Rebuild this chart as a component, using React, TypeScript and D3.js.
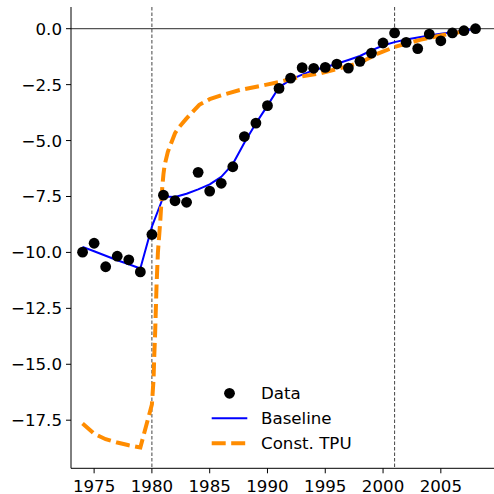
import React from "react";
import * as d3 from "d3";

const dataYears = [1974,1975,1976,1977,1978,1979,1980,1981,1982,1983,1984,1985,1986,1987,1988,1989,1990,1991,1992,1993,1994,1995,1996,1997,1998,1999,2000,2001,2002,2003,2004,2005,2006,2007,2008];
const dataValues = [-9.99,-9.59,-10.64,-10.17,-10.33,-10.87,-9.2,-7.44,-7.69,-7.76,-6.42,-7.26,-6.91,-6.17,-4.82,-4.22,-3.44,-2.67,-2.21,-1.74,-1.77,-1.73,-1.58,-1.76,-1.46,-1.09,-0.64,-0.19,-0.61,-0.89,-0.24,-0.54,-0.19,-0.09,0.0];

const baselineYears = dataYears;
const baselineValues = [-9.75,-9.95,-10.15,-10.35,-10.53,-10.72,-8.85,-7.5,-7.52,-7.38,-7.18,-6.96,-6.62,-6.05,-5.1,-4.23,-3.44,-2.62,-2.28,-2.05,-1.85,-1.72,-1.57,-1.4,-1.22,-0.97,-0.75,-0.6,-0.48,-0.39,-0.3,-0.22,-0.16,-0.09,0.0];

const tpuYears = [1974,1975,1976,1977,1978,1979,1980,1980.14,1980.2,1980.28,1980.4,1980.52,1980.73,1980.9,1981,1981.1,1981.38,1982,1982.4,1983,1984.1,1985,1986,1987.6,1989.4,1991.1,1992.8,1994.5,1996.2,1998,1999.6,2001.1,2003.2,2005.2,2006.9,2008];
const tpuValues = [-17.65,-18.1,-18.35,-18.5,-18.62,-18.72,-16.8,-15.7,-14.7,-13.6,-11.5,-10.0,-8.55,-7.06,-6.5,-6.1,-5.5,-4.67,-4.37,-4.01,-3.4,-3.15,-2.98,-2.74,-2.56,-2.37,-2.15,-2.0,-1.78,-1.52,-1.1,-0.8,-0.5,-0.28,-0.13,0.0];

const xTicks = [1975,1980,1985,1990,1995,2000,2005];
const yTicks = [0,-2.5,-5,-7.5,-10,-12.5,-15,-17.5];
const vLines = [1980,2001];
const legendLabels = ["Data","Baseline","Const. TPU"];

const W = 494, H = 494;
const left = 71, right = 494, top = 7, bottom = 468.3;
const font = "DejaVu Sans, sans-serif";
const fs = 16.67;

export default function App() {
  const x = d3.scaleLinear().domain([1973, 2009.6]).range([left, right]);
  const y = d3.scaleLinear().domain([0.97, -19.65]).range([top, bottom]);

  const blueLine = d3.line<number>().x((d, i) => x(baselineYears[i])).y(d => y(d))(baselineValues) || "";
  const orangeLine = d3.line<number>().x((d, i) => x(tpuYears[i])).y(d => y(d))(tpuValues) || "";

  const fmt = (v: number) => (v < 0 ? "\u2212" : "") + Math.abs(v).toFixed(1);

  return (
    <svg width={W} height={H} style={{ position: "absolute", left: 0, top: 0, background: "#fff" }} fontFamily={font}>
      <rect x={0} y={0} width={W} height={H} fill="#fff" />
      {/* zero line */}
      <line x1={left} x2={right} y1={y(0)} y2={y(0)} stroke="#555" strokeWidth={1.3} />
      {/* vertical dashed lines */}
      {vLines.map(v => (
        <line key={v} x1={x(v)} x2={x(v)} y1={top} y2={bottom} stroke="#444" strokeWidth={1} strokeDasharray="3.5,2" />
      ))}
      {/* baseline */}
      <path d={blueLine} fill="none" stroke="#0000ff" strokeWidth={2} strokeLinejoin="round" />
      {/* const TPU */}
      <path d={orangeLine} fill="none" stroke="#ff8c00" strokeWidth={4} strokeDasharray="14,5.5" />
      {/* data */}
      {dataValues.map((v, i) => (
        <circle key={i} cx={x(dataYears[i])} cy={y(v)} r={5.4} fill="#000" />
      ))}
      {/* axes */}
      <line x1={left} x2={left} y1={top} y2={bottom} stroke="#000" strokeWidth={1} />
      <line x1={left} x2={right} y1={bottom} y2={bottom} stroke="#000" strokeWidth={1} />
      {yTicks.map(t => (
        <g key={t}>
          <line x1={left - 5} x2={left} y1={y(t)} y2={y(t)} stroke="#000" strokeWidth={1} />
          <text x={left - 9} y={y(t)} dy="0.36em" textAnchor="end" fontSize={fs} fill="#000">{fmt(t)}</text>
        </g>
      ))}
      {xTicks.map(t => (
        <g key={t}>
          <line x1={x(t)} x2={x(t)} y1={bottom} y2={bottom + 5} stroke="#000" strokeWidth={1} />
          <text x={x(t)} y={492} textAnchor="middle" fontSize={fs} fill="#000">{t}</text>
        </g>
      ))}
      {/* legend */}
      <circle cx={229.5} cy={393.3} r={5.4} fill="#000" />
      <line x1={211.7} x2={247.3} y1={418.3} y2={418.3} stroke="#0000ff" strokeWidth={2} />
      <line x1={211.7} x2={247.3} y1={443.3} y2={443.3} stroke="#ff8c00" strokeWidth={4} strokeDasharray="14,5.5" />
      {legendLabels.map((l, i) => (
        <text key={l} x={261} y={393.3 + i * 25} dy="0.36em" fontSize={fs} fill="#000">{l}</text>
      ))}
    </svg>
  );
}
